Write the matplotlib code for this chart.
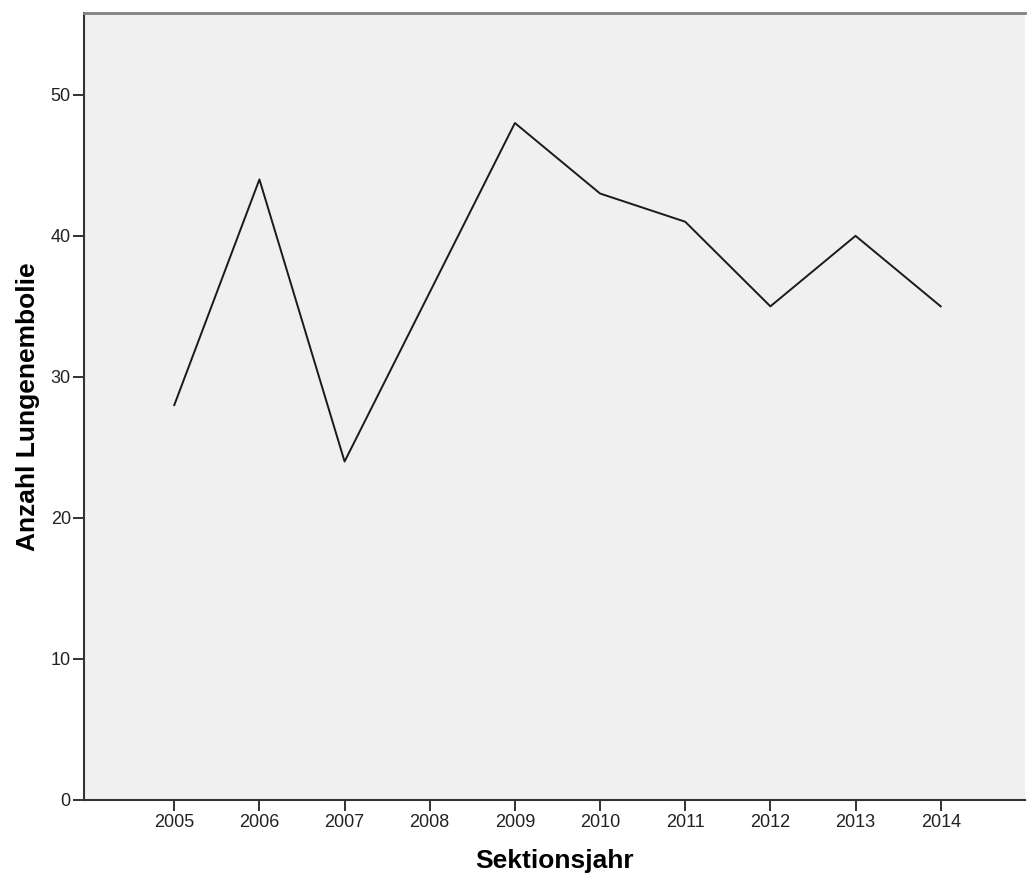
import matplotlib
matplotlib.use("Agg")
import matplotlib.pyplot as plt

years = [2005, 2006, 2007, 2008, 2009, 2010, 2011, 2012, 2013, 2014]
counts = [28, 44, 24, 36, 48, 43, 41, 35, 40, 35]
yticks = [0, 10, 20, 30, 40, 50]

plt.rcParams['font.family'] = ['Liberation Sans', 'DejaVu Sans']

fig = plt.figure(figsize=(10.27, 8.82), dpi=100)
ax = fig.add_axes([84/1027, 82/882, (1025-84)/1027, (800-13)/882])
ax.set_facecolor('#f0f0f0')
ax.plot(years, counts, color='#1a1a1a', linewidth=1.4)
ax.set_xlim(2003.94, 2014.99)
ax.set_ylim(0, 55.8)
ax.set_xticks(years)
ax.set_xticklabels([str(y) for y in years])
ax.set_yticks(yticks)
ax.tick_params(axis='both', direction='out', length=8, width=1.3, colors='#222222', labelsize=13)
ax.tick_params(axis='x', pad=2)
ax.tick_params(axis='y', pad=1.5)
ax.spines['right'].set_visible(False)
ax.spines['top'].set_color('#808080')
ax.spines['top'].set_linewidth(2)
ax.spines['left'].set_color('#333333')
ax.spines['left'].set_linewidth(1.5)
ax.spines['bottom'].set_color('#333333')
ax.spines['bottom'].set_linewidth(1.5)
ax.set_xlabel('Sektionsjahr', fontsize=19, fontweight='bold', labelpad=13)
ax.set_ylabel('Anzahl Lungenembolie', fontsize=19, fontweight='bold', labelpad=8)
fig.savefig('out.png', dpi=100)
